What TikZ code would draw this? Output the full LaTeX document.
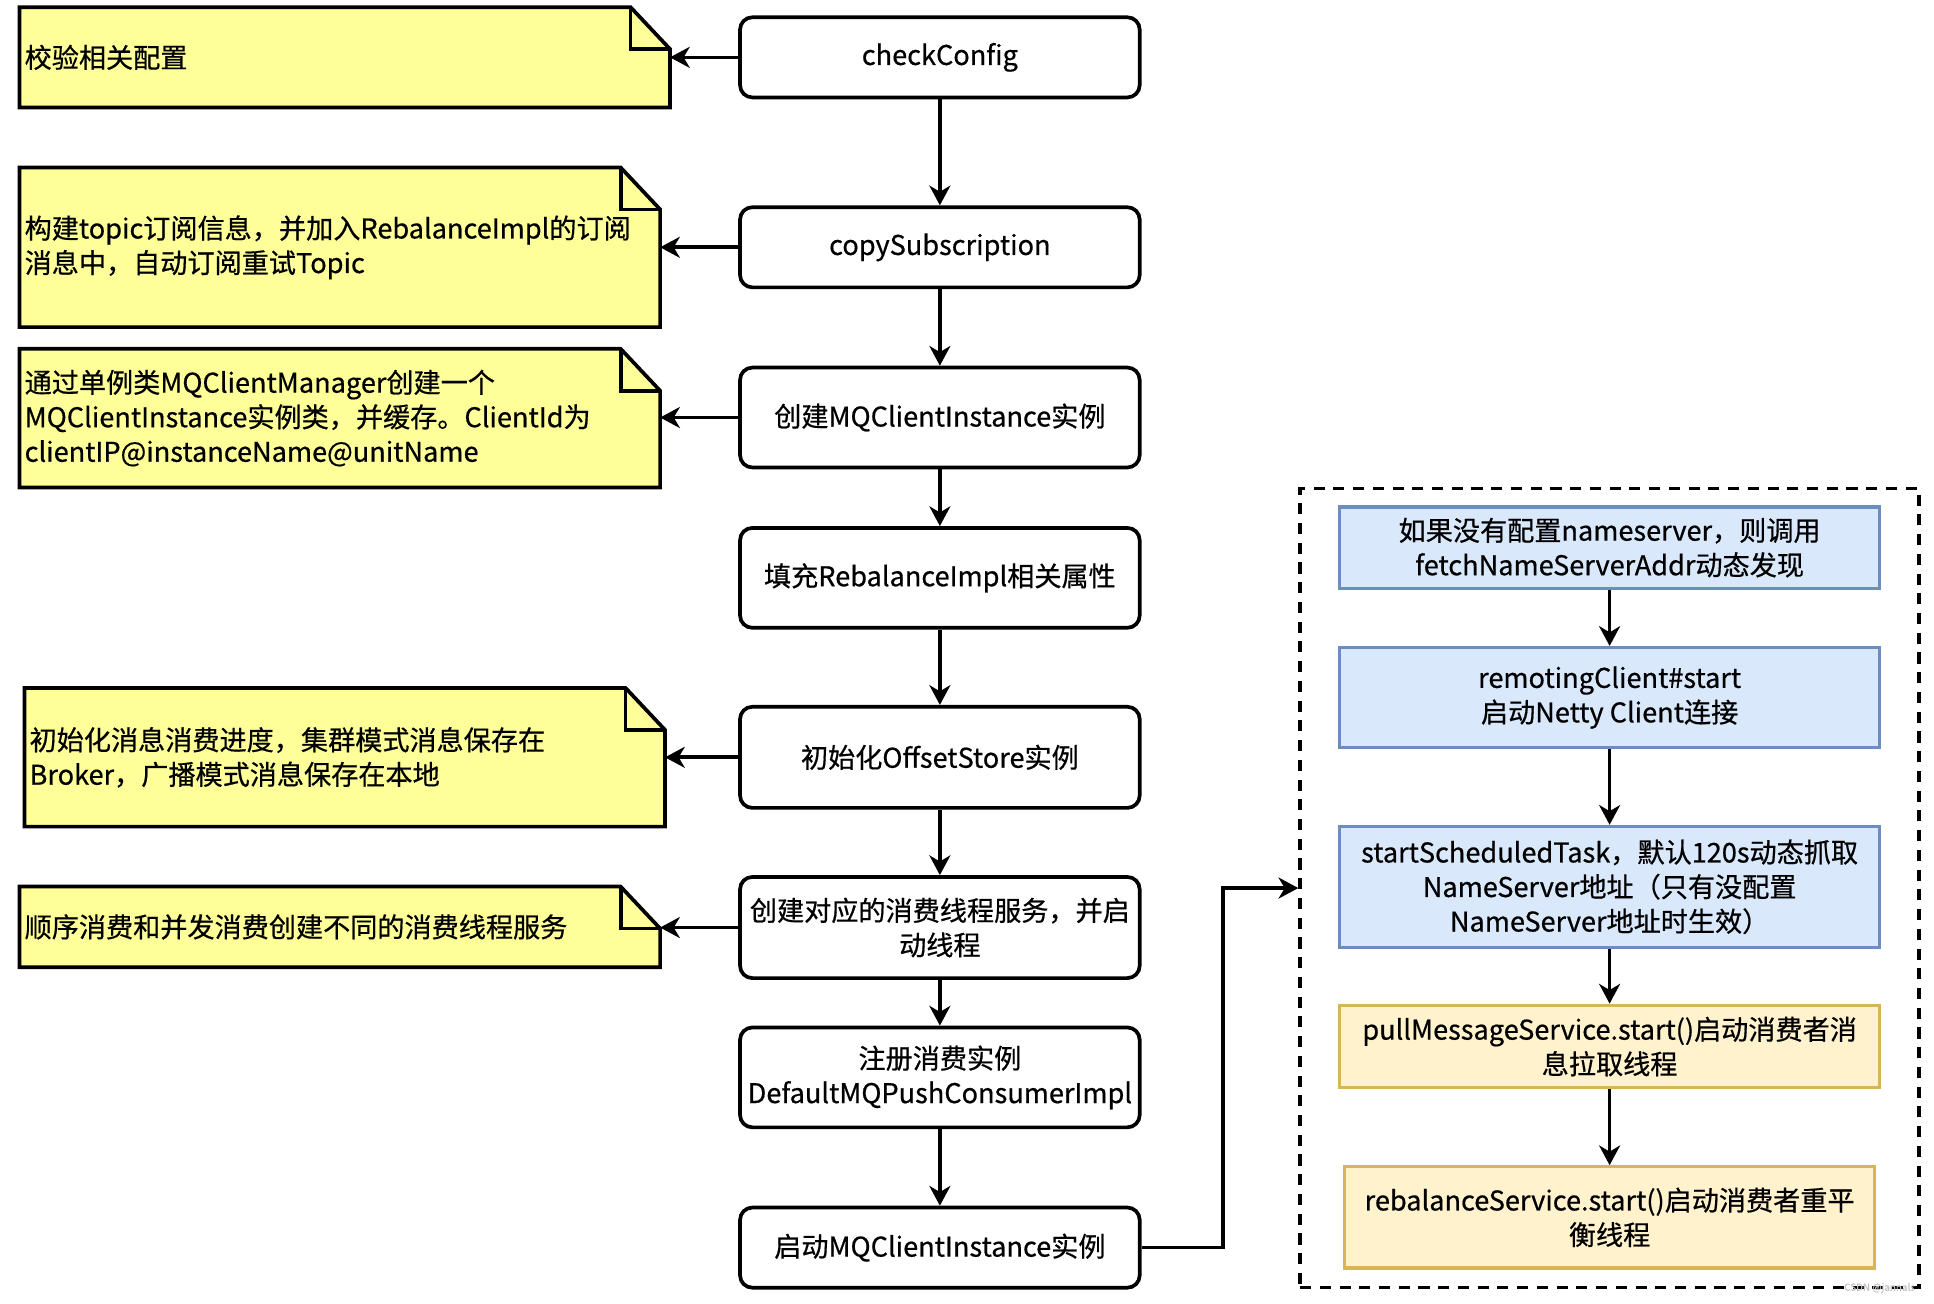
\documentclass[tikz,border=0pt]{standalone}
\usepackage{fontspec}
\setmainfont{Noto Sans CJK SC}[FakeBold=0.6]
\usepackage{tikz}
\usetikzlibrary{arrows.meta,backgrounds}
\definecolor{notefill}{HTML}{FFFF99}
\definecolor{bluefill}{HTML}{DAE8FC}
\definecolor{blueline}{HTML}{6C8EBF}
\definecolor{yellowfill}{HTML}{FFF2CC}
\definecolor{yellowline}{HTML}{D6B656}

\begin{document}
\begin{tikzpicture}[x=1pt,y=-1pt,font=\fontsize{22}{28}\selectfont,
  flowbox/.style={draw,rounded corners=10pt,line width=3pt,fill=white,minimum width=324pt,align=center,inner sep=2pt},
  notebox/.style={text width=#1,align=left,inner xsep=4pt,inner ysep=2pt},
  notebox/.default=511pt,
  bluebox/.style={draw=blueline,fill=bluefill,line width=2.6pt,minimum width=438pt,align=center,inner sep=2pt},
  yellowbox/.style={draw=yellowline,fill=yellowfill,line width=2.6pt,minimum width=438pt,align=center,inner sep=2pt},
  groupbox/.style={draw,line width=2.8pt,dash pattern=on 9pt off 7pt,minimum width=502pt,minimum height=648pt},
  arr/.style={line width=3pt,-{Stealth[length=16pt,width=17pt,inset=5pt]}}]
\useasboundingbox (0,0) rectangle (1568,1057);

\node[notebox=519pt,minimum height=81pt] (n1) at (279.5,46.5) {校验相关配置};
\node[notebox,minimum height=129pt] (n2) at (275.5,200.5) {构建topic订阅信息，并加入RebalanceImpl的订阅\\消息中，自动订阅重试Topic};
\node[notebox,minimum height=112pt] (n3) at (275.5,339) {通过单例类MQClientManager创建一个\\MQClientInstance实例类，并缓存。ClientId为\\clientIP@instanceName@unitName};
\node[notebox,minimum height=112pt] (n4) at (279.5,614) {初始化消息消费进度，集群模式消息保存在\\Broker，广播模式消息保存在本地};
\node[notebox,minimum height=65pt] (n5) at (275.5,751.5) {顺序消费和并发消费创建不同的消费线程服务};
\begin{scope}[on background layer]
\foreach \n in {n1,n2,n3,n4,n5}{
\draw[line width=3pt,fill=notefill] (\n.south west) -- (\n.north west) -- ([xshift=-32pt]\n.north east) -- ([yshift=-34pt]\n.north east) -- (\n.south east) -- cycle;
\draw[line width=3pt] ([xshift=-32pt]\n.north east) |- ([yshift=-34pt]\n.north east);
}
\end{scope}

\node[flowbox,minimum height=65pt] (b1) at (762,46.5) {checkConfig};
\node[flowbox,minimum height=65pt] (b2) at (762,200.5) {copySubscription};
\node[flowbox,minimum height=81pt] (b3) at (762,338.5) {创建MQClientInstance实例};
\node[flowbox,minimum height=81pt] (b4) at (762,468.5) {填充RebalanceImpl相关属性};
\node[flowbox,minimum height=82pt] (b5) at (762,614) {初始化OffsetStore实例};
\node[flowbox,minimum height=82pt] (b6) at (762,752) {创建对应的消费线程服务，并启\\动线程};
\node[flowbox,minimum height=81pt] (b7) at (762,873.5) {注册消费实例\\DefaultMQPushConsumerImpl};
\node[flowbox,minimum height=65pt] (b8) at (762,1011.5) {启动MQClientInstance实例};
\foreach \a/\b in {b1/b2,b2/b3,b3/b4,b4/b5,b5/b6,b6/b7,b7/b8}
\draw[arr] (\a) -- (\b);
\foreach \a/\b in {b1/n1,b2/n2,b3/n3,b5/n4,b6/n5}
\draw[arr] (\a.west) -- (\a.west -| \b.east);

\node[groupbox] (grp) at (1305,720) {};
\node[bluebox,minimum height=66pt] (r1) at (1305,444) {如果没有配置nameserver，则调用\\fetchNameServerAddr动态发现};
\node[bluebox,minimum height=81pt] (r2) at (1305,565.5) {remotingClient\#start\\启动Netty Client连接};
\node[bluebox,minimum height=98pt] (r3) at (1305,719) {startScheduledTask，默认120s动态抓取\\NameServer地址（只有没配置\\NameServer地址时生效）};
\node[yellowbox,minimum height=67pt] (r4) at (1305,848.5) {pullMessageService.start()启动消费者消\\息拉取线程};
\node[yellowbox,minimum width=430pt,minimum height=82pt] (r5) at (1305,987) {rebalanceService.start()启动消费者重平\\衡线程};
\foreach \a/\b in {r1/r2,r2/r3,r3/r4,r4/r5}
\draw[arr] (\a) -- (\b);
\draw[arr] (b8.east) -- ++(66,0) |- (grp.west);

\node[font=\fontsize{8}{9}\selectfont,text=gray!50,anchor=south east] (wm) at (1556,1052) {CSDN @jannals};
\end{tikzpicture}
\end{document}
